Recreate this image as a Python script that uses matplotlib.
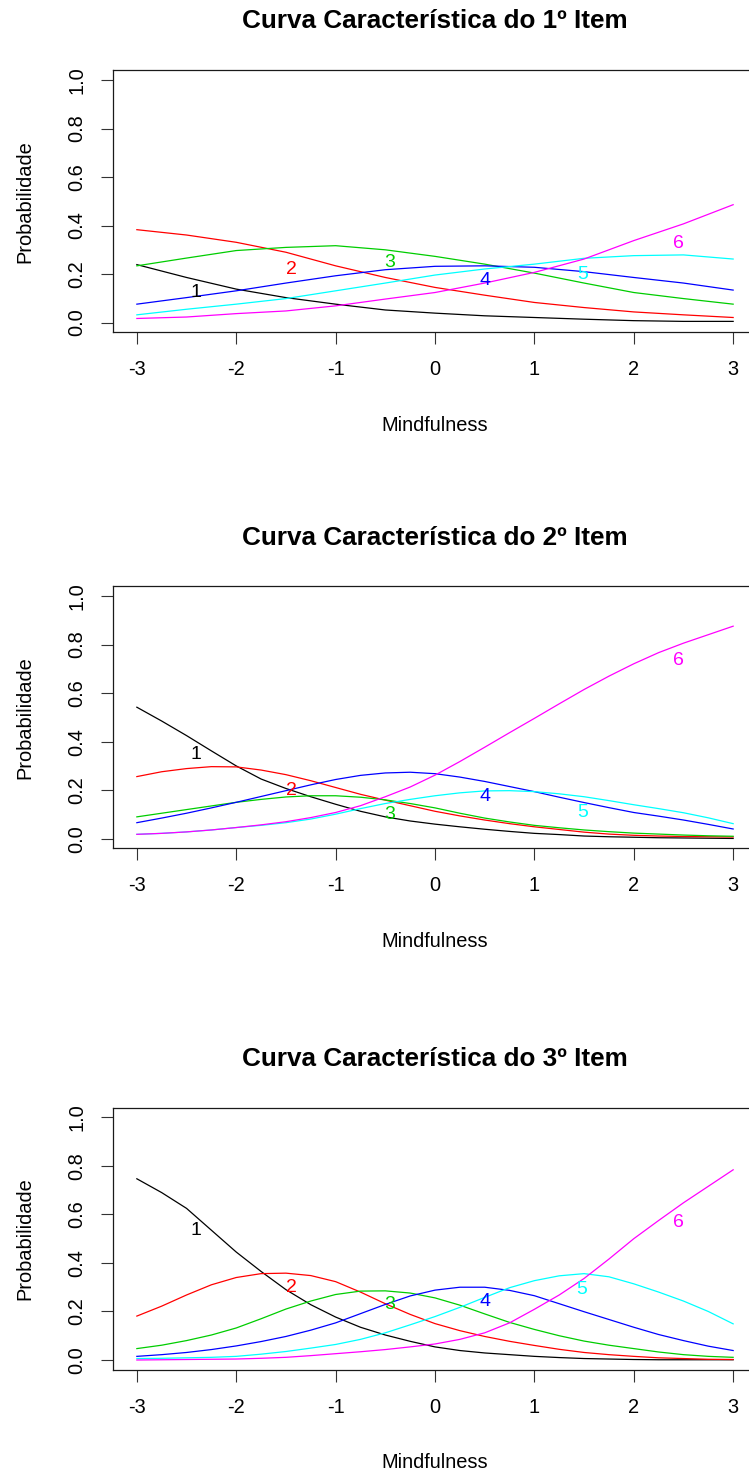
import matplotlib
matplotlib.use("Agg")
import matplotlib.pyplot as plt

plt.rcParams["font.family"] = ["Liberation Sans", "DejaVu Sans"]

# Ability grids
theta_half = [-3.0, -2.5, -2.0, -1.5, -1.0, -0.5, 0.0, 0.5, 1.0, 1.5, 2.0, 2.5, 3.0]
theta_quarter = [-3.0, -2.75, -2.5, -2.25, -2.0, -1.75, -1.5, -1.25, -1.0, -0.75, -0.5, -0.25,
                 0.0, 0.25, 0.5, 0.75, 1.0, 1.25, 1.5, 1.75, 2.0, 2.25, 2.5, 2.75, 3.0]

# Category response probabilities, item 1
item1_cat1 = [0.239, 0.186, 0.138, 0.103, 0.076, 0.052, 0.039, 0.028, 0.021, 0.014, 0.008, 0.005, 0.005]
item1_cat2 = [0.383, 0.361, 0.331, 0.290, 0.234, 0.186, 0.145, 0.113, 0.083, 0.062, 0.044, 0.032, 0.021]
item1_cat3 = [0.234, 0.266, 0.297, 0.310, 0.317, 0.300, 0.273, 0.241, 0.204, 0.163, 0.124, 0.099, 0.076]
item1_cat4 = [0.076, 0.103, 0.131, 0.163, 0.193, 0.218, 0.232, 0.234, 0.228, 0.210, 0.186, 0.163, 0.134]
item1_cat5 = [0.032, 0.055, 0.076, 0.099, 0.131, 0.163, 0.196, 0.221, 0.241, 0.265, 0.276, 0.279, 0.262]
item1_cat6 = [0.017, 0.023, 0.037, 0.048, 0.069, 0.097, 0.124, 0.163, 0.207, 0.262, 0.338, 0.407, 0.486]

# Category response probabilities, item 2
item2_cat1 = [0.542, 0.485, 0.425, 0.362, 0.300, 0.246, 0.207, 0.173, 0.142, 0.113, 0.090, 0.073, 0.060,
              0.049, 0.039, 0.030, 0.022, 0.017, 0.011, 0.008, 0.006, 0.004, 0.003, 0.002, 0.001]
item2_cat2 = [0.256, 0.276, 0.289, 0.297, 0.296, 0.283, 0.264, 0.239, 0.211, 0.183, 0.159, 0.136, 0.113,
              0.094, 0.077, 0.062, 0.049, 0.038, 0.027, 0.019, 0.014, 0.011, 0.009, 0.008, 0.007]
item2_cat3 = [0.090, 0.105, 0.120, 0.135, 0.150, 0.162, 0.172, 0.177, 0.177, 0.171, 0.160, 0.145, 0.127,
              0.105, 0.085, 0.069, 0.055, 0.045, 0.036, 0.029, 0.023, 0.019, 0.015, 0.012, 0.010]
item2_cat4 = [0.066, 0.085, 0.105, 0.127, 0.150, 0.174, 0.198, 0.222, 0.244, 0.261, 0.271, 0.274, 0.268,
              0.254, 0.236, 0.215, 0.194, 0.171, 0.149, 0.128, 0.108, 0.093, 0.077, 0.059, 0.040]
item2_cat5 = [0.018, 0.022, 0.028, 0.036, 0.046, 0.055, 0.066, 0.081, 0.101, 0.124, 0.145, 0.162, 0.177,
              0.189, 0.197, 0.198, 0.194, 0.185, 0.173, 0.157, 0.140, 0.124, 0.107, 0.086, 0.062]
item2_cat6 = [0.018, 0.022, 0.028, 0.036, 0.046, 0.057, 0.070, 0.087, 0.108, 0.136, 0.173, 0.213, 0.262,
              0.318, 0.377, 0.437, 0.496, 0.556, 0.615, 0.670, 0.721, 0.767, 0.806, 0.841, 0.876]

# Category response probabilities, item 3
item3_cat1 = [0.747, 0.690, 0.625, 0.535, 0.445, 0.365, 0.290, 0.228, 0.177, 0.135, 0.103, 0.077, 0.054,
              0.039, 0.029, 0.022, 0.015, 0.010, 0.006, 0.004, 0.002, 0.001, 0.001, 0.001, 0.001]
item3_cat2 = [0.181, 0.222, 0.268, 0.310, 0.340, 0.356, 0.358, 0.348, 0.323, 0.280, 0.232, 0.188, 0.150,
              0.121, 0.097, 0.077, 0.060, 0.044, 0.031, 0.022, 0.015, 0.009, 0.006, 0.003, 0.002]
item3_cat3 = [0.047, 0.061, 0.080, 0.103, 0.132, 0.170, 0.210, 0.243, 0.270, 0.284, 0.285, 0.276, 0.256,
              0.226, 0.190, 0.155, 0.126, 0.100, 0.078, 0.061, 0.047, 0.033, 0.022, 0.015, 0.011]
item3_cat4 = [0.015, 0.022, 0.031, 0.043, 0.058, 0.076, 0.097, 0.123, 0.153, 0.191, 0.229, 0.264, 0.288,
              0.300, 0.300, 0.287, 0.265, 0.232, 0.199, 0.167, 0.135, 0.105, 0.080, 0.057, 0.039]
item3_cat5 = [0.006, 0.007, 0.009, 0.011, 0.015, 0.024, 0.035, 0.049, 0.064, 0.085, 0.112, 0.145, 0.179,
              0.217, 0.258, 0.298, 0.327, 0.347, 0.356, 0.343, 0.314, 0.280, 0.243, 0.200, 0.149]
item3_cat6 = [0.000, 0.001, 0.002, 0.003, 0.004, 0.007, 0.011, 0.018, 0.026, 0.034, 0.043, 0.054, 0.066,
              0.085, 0.112, 0.153, 0.209, 0.268, 0.336, 0.416, 0.500, 0.575, 0.648, 0.716, 0.784]

# Curve label anchors (theta, probability) for categories 1..6
item1_lab_x = [-2.41, -1.44, -0.46, 0.50, 1.49, 2.45]
item1_lab_y = [0.124, 0.218, 0.246, 0.172, 0.200, 0.328]
item2_lab_x = [-2.41, -1.44, -0.46, 0.50, 1.49, 2.45]
item2_lab_y = [0.349, 0.200, 0.100, 0.172, 0.108, 0.735]
item3_lab_x = [-2.41, -1.44, -0.46, 0.50, 1.48, 2.45]
item3_lab_y = [0.533, 0.298, 0.229, 0.243, 0.291, 0.568]

category_names = ["1", "2", "3", "4", "5", "6"]
titles = ["Curva Característica do 1º Item",
          "Curva Característica do 2º Item",
          "Curva Característica do 3º Item"]
x_ticks = [-3, -2, -1, 0, 1, 2, 3]
x_ticklabels = ["-3", "-2", "-1", "0", "1", "2", "3"]
y_ticks = [0.0, 0.2, 0.4, 0.6, 0.8, 1.0]
y_ticklabels = ["0.0", "0.2", "0.4", "0.6", "0.8", "1.0"]
x_label = "Mindfulness"
y_label = "Probabilidade"

colors = ["#000000", "#FF0000", "#00CD00", "#0000FF", "#00FFFF", "#FF00FF"]

items = [
    (theta_half, [item1_cat1, item1_cat2, item1_cat3, item1_cat4, item1_cat5, item1_cat6],
     item1_lab_x, item1_lab_y),
    (theta_quarter, [item2_cat1, item2_cat2, item2_cat3, item2_cat4, item2_cat5, item2_cat6],
     item2_lab_x, item2_lab_y),
    (theta_quarter, [item3_cat1, item3_cat2, item3_cat3, item3_cat4, item3_cat5, item3_cat6],
     item3_lab_x, item3_lab_y),
]

W, H = 749, 1474
fig = plt.figure(figsize=(W / 100, H / 100), dpi=100)
fig.patch.set_facecolor("white")

box_left, box_width, box_height = 113, 644, 262
box_tops = [70.3, 586.4, 1107.7]

FS = 14.4
for (grid, curves, lab_x, lab_y), title, top in zip(items, titles, box_tops):
    ax = fig.add_axes([box_left / W, 1 - (top + box_height) / H, box_width / W, box_height / H])
    ax.set_xlim(-3.24, 3.24)
    ax.set_ylim(-0.04, 1.04)
    for vals, col in zip(curves, colors):
        ax.plot(grid, vals, color=col, lw=0.9, solid_joinstyle="round")
    for name, lx, ly, col in zip(category_names, lab_x, lab_y, colors):
        ax.text(lx, ly, name, color=col, fontsize=14, ha="center", va="center")

    ax.set_xticks(x_ticks)
    ax.set_xticklabels(x_ticklabels, fontsize=FS)
    ax.set_yticks(y_ticks)
    ax.set_yticklabels(y_ticklabels, fontsize=FS, rotation=90, va="center")
    ax.tick_params(axis="both", direction="out", length=8.6, width=0.8, color="#333333")
    ax.tick_params(axis="x", pad=11.5)
    ax.tick_params(axis="y", pad=10.5)
    for sp in ax.spines.values():
        sp.set_linewidth(0.9)
        sp.set_color("#1a1a1a")

    fig.text(435 / W, 1 - (top - 48.8) / H, title, fontsize=18.8, fontweight="bold",
             ha="center", va="center")
    fig.text(435 / W, 1 - (top + box_height + 93) / H, x_label, fontsize=FS,
             ha="center", va="center")
    fig.text(25 / W, 1 - (top + box_height / 2) / H, y_label, fontsize=FS,
             ha="center", va="center", rotation=90)

fig.savefig("out.png", dpi=100, facecolor="white")
